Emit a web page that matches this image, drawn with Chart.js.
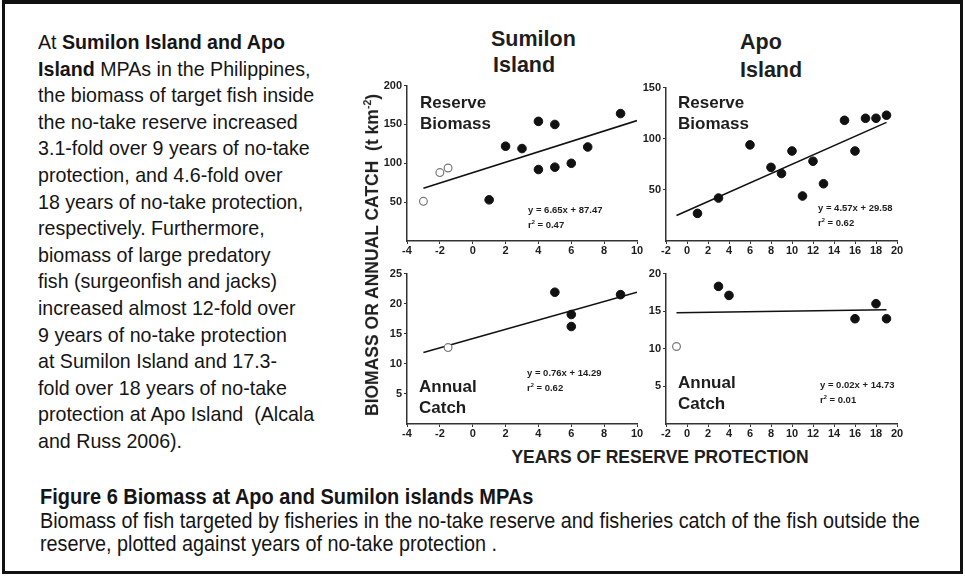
<!DOCTYPE html>
<html>
<head>
<meta charset="utf-8">
<script src="https://cdn.jsdelivr.net/npm/chart.js@4.4.0/dist/chart.umd.min.js"></script>
<style>
  html, body { margin: 0; padding: 0; background: #fff; }
  #page { position: relative; width: 965px; height: 577px; overflow: hidden; font-family: "Liberation Sans", Arial, sans-serif; color: #151515; }
  #frame { position: absolute; left: 2px; top: 0; width: 961px; height: 574px; box-sizing: border-box; border: 3px solid #111; border-top-width: 4px; }
  .body { position: absolute; font-size: 21px; line-height: 26.6px; white-space: nowrap; transform: scaleX(0.935); transform-origin: left top; }
  #intro { left: 38px; top: 29px; }
  #capTitle { left: 40px; top: 484px; font-weight: bold; font-size: 21.4px; }
  #capText { left: 40px; top: 509px; line-height: 23px; font-size: 21.2px; }
  canvas { position: absolute; }
  .lbl { position: absolute; font-weight: bold; color: #1e1e1e; white-space: nowrap; }
  .title { font-size: 21.5px; line-height: 26px; }
  .tag { font-size: 17px; line-height: 21px; }
  .eq { font-size: 9.5px; line-height: 12px; }
  #yTitle { left: 372px; top: 255px; font-size: 17.5px; transform: translate(-50%, -50%) rotate(-90deg); }
  #xTitle { left: 660px; top: 457px; font-size: 17.5px; transform: translate(-50%, -50%); }
  sup { font-size: 60%; }
</style>
</head>
<body>
<div id="page">
  <div id="frame"></div>

  <div id="intro" class="body">At <b>Sumilon Island and Apo</b><br><b>Island</b> MPAs in the Philippines,<br>the biomass of target fish inside<br>the no-take reserve increased<br>3.1-fold over 9 years of no-take<br>protection, and 4.6-fold over<br>18 years of no-take protection,<br>respectively. Furthermore,<br>biomass of large predatory<br>fish (surgeonfish and jacks)<br>increased almost 12-fold over<br>9 years of no-take protection<br>at Sumilon Island and 17.3-<br>fold over 18 years of no-take<br>protection at Apo Island&nbsp; (Alcala<br>and Russ 2006).</div>

  <div class="lbl title" style="left:491px; top:26px;">Sumilon</div>
  <div class="lbl title" style="left:493px; top:52px;">Island</div>
  <div class="lbl title" style="left:740px; top:29px;">Apo</div>
  <div class="lbl title" style="left:740px; top:57px;">Island</div>

  <canvas id="sumBioChart"></canvas>
  <canvas id="apoBioChart"></canvas>
  <canvas id="sumCatchChart"></canvas>
  <canvas id="apoCatchChart"></canvas>

  <div class="lbl tag" style="left:420px; top:92px;">Reserve<br>Biomass</div>
  <div class="lbl tag" style="left:678px; top:92px;">Reserve<br>Biomass</div>
  <div class="lbl tag" style="left:419px; top:376px;">Annual<br>Catch</div>
  <div class="lbl tag" style="left:678px; top:372px;">Annual<br>Catch</div>

  <div class="lbl eq" style="left:528px; top:204px;">y = 6.65x + 87.47<br>r<sup>2</sup> = 0.47</div>
  <div class="lbl eq" style="left:818px; top:202px;">y = 4.57x + 29.58<br>r<sup>2</sup> = 0.62</div>
  <div class="lbl eq" style="left:527px; top:367px;">y = 0.76x + 14.29<br>r<sup>2</sup> = 0.62</div>
  <div class="lbl eq" style="left:820px; top:379px;">y = 0.02x + 14.73<br>r<sup>2</sup> = 0.01</div>

  <div id="yTitle" class="lbl">BIOMASS OR ANNUAL CATCH&nbsp; (t km<sup>-2</sup>)</div>
  <div id="xTitle" class="lbl">YEARS OF RESERVE PROTECTION</div>

  <div id="capTitle" class="body">Figure 6 Biomass at Apo and Sumilon islands MPAs</div>
  <div id="capText" class="body">Biomass of fish targeted by fisheries in the no-take reserve and fisheries catch of the fish outside the<br>reserve, plotted against years of no-take protection .</div>
</div>

<script>
// tick labels
const sumilonYears = [-4, -2, 0, 2, 4, 6, 8, 10];
const apoYears = [-2, 0, 2, 4, 6, 8, 10, 12, 14, 16, 18, 20];
const sumBioTicks = [50, 100, 150, 200];
const apoBioTicks = [50, 100, 150];
const sumCatchTicks = [5, 10, 15, 20, 25];
const apoCatchTicks = [5, 10, 15, 20];

// Sumilon Island - reserve biomass (t km-2); open = before protection
const sumBioOpenYears = [-3, -2, -1.5];
const sumBioOpen = [51, 88, 94];
const sumBioYears = [1, 2, 3, 4, 4, 5, 5, 6, 7, 9];
const sumBio = [53, 122, 119, 154, 92, 150, 95, 100, 121, 164];
const sumBioFitYears = [-3, 10];
const sumBioFit = [68, 155];

// Apo Island - reserve biomass
const apoBioYears = [1, 3, 6, 8, 9, 10, 11, 12, 13, 15, 16, 17, 18, 19];
const apoBio = [27, 42, 94, 72, 66, 88, 44, 78, 56, 118, 88, 120, 120, 123];
const apoBioFitYears = [-1, 19];
const apoBioFit = [25, 116];

// Sumilon Island - annual catch
const sumCatchOpenYears = [-1.5];
const sumCatchOpen = [12.7];
const sumCatchYears = [5, 6, 6, 9];
const sumCatch = [21.9, 18.2, 16.2, 21.5];
const sumCatchFitYears = [-3, 10];
const sumCatchFit = [11.9, 21.9];

// Apo Island - annual catch
const apoCatchOpenYears = [-1];
const apoCatchOpen = [10.3];
const apoCatchYears = [3, 4, 16, 18, 19];
const apoCatch = [18.3, 17.1, 14.0, 16.0, 14.0];
const apoCatchFitYears = [-1, 19];
const apoCatchFit = [14.8, 15.2];

const AXIS = "#333";
const FONT = '"Liberation Sans", Arial, sans-serif';

function pts(xs, ys) {
  return xs.map((x, i) => ({ x: x, y: ys[i] }));
}

function filled(xs, ys) {
  return { data: pts(xs, ys), pointRadius: 4.3, pointBackgroundColor: "#111", pointBorderColor: "#111", order: 0, clip: false };
}
function open(xs, ys) {
  return { data: pts(xs, ys), pointRadius: 3.9, pointBackgroundColor: "#fff", pointBorderColor: "#777", pointBorderWidth: 1.2, order: 1, clip: false };
}
function fit(xs, ys) {
  return { data: pts(xs, ys), showLine: true, borderColor: "#111", borderWidth: 1.6, pointRadius: 0, order: 2 };
}

// plot area in page pixels: [left, top, right, bottom]
function panel(id, area, xTicks, yTicks, datasets) {
  const cv = document.getElementById(id);
  cv.width = 34 + area[2] - area[0] + 12;
  cv.height = 8 + area[3] - area[1] + 22;
  cv.style.left = (area[0] - 34) + "px";
  cv.style.top = (area[1] - 8) + "px";

  const tickFont = { family: FONT, size: 11, weight: "bold" };
  new Chart(cv, {
    type: "scatter",
    data: { datasets: datasets },
    options: {
      responsive: false,
      animation: false,
      devicePixelRatio: 1,
      layout: { padding: { top: 8, right: 12, left: 0, bottom: 0 } },
      plugins: { legend: { display: false }, tooltip: { enabled: false } },
      scales: {
        x: {
          type: "linear",
          min: xTicks[0],
          max: xTicks[xTicks.length - 1],
          afterBuildTicks: s => { s.ticks = xTicks.map(v => ({ value: v })); },
          afterFit: s => { s.height = 22; },
          grid: { drawOnChartArea: false, drawTicks: true, tickLength: 3, color: AXIS },
          border: { color: AXIS, width: 1.5 },
          ticks: { font: tickFont, color: "#1e1e1e", padding: 0, maxRotation: 0, autoSkip: false }
        },
        y: {
          type: "linear",
          min: 0,
          max: yTicks[yTicks.length - 1],
          afterBuildTicks: s => { s.ticks = yTicks.map(v => ({ value: v })); },
          afterFit: s => { s.width = 34; },
          grid: { drawOnChartArea: false, drawTicks: true, tickLength: 3, color: AXIS },
          border: { color: AXIS, width: 1.5 },
          ticks: { font: tickFont, color: "#1e1e1e", padding: 2 }
        }
      }
    }
  });
}

panel("sumBioChart", [407, 85, 637, 241], sumilonYears, sumBioTicks, [
  fit(sumBioFitYears, sumBioFit),
  open(sumBioOpenYears, sumBioOpen),
  filled(sumBioYears, sumBio)
]);
panel("apoBioChart", [666, 87, 897, 241], apoYears, apoBioTicks, [
  fit(apoBioFitYears, apoBioFit),
  filled(apoBioYears, apoBio)
]);
panel("sumCatchChart", [407, 273, 637, 424], sumilonYears, sumCatchTicks, [
  fit(sumCatchFitYears, sumCatchFit),
  open(sumCatchOpenYears, sumCatchOpen),
  filled(sumCatchYears, sumCatch)
]);
panel("apoCatchChart", [666, 273, 897, 424], apoYears, apoCatchTicks, [
  fit(apoCatchFitYears, apoCatchFit),
  open(apoCatchOpenYears, apoCatchOpen),
  filled(apoCatchYears, apoCatch)
]);
</script>
</body>
</html>
